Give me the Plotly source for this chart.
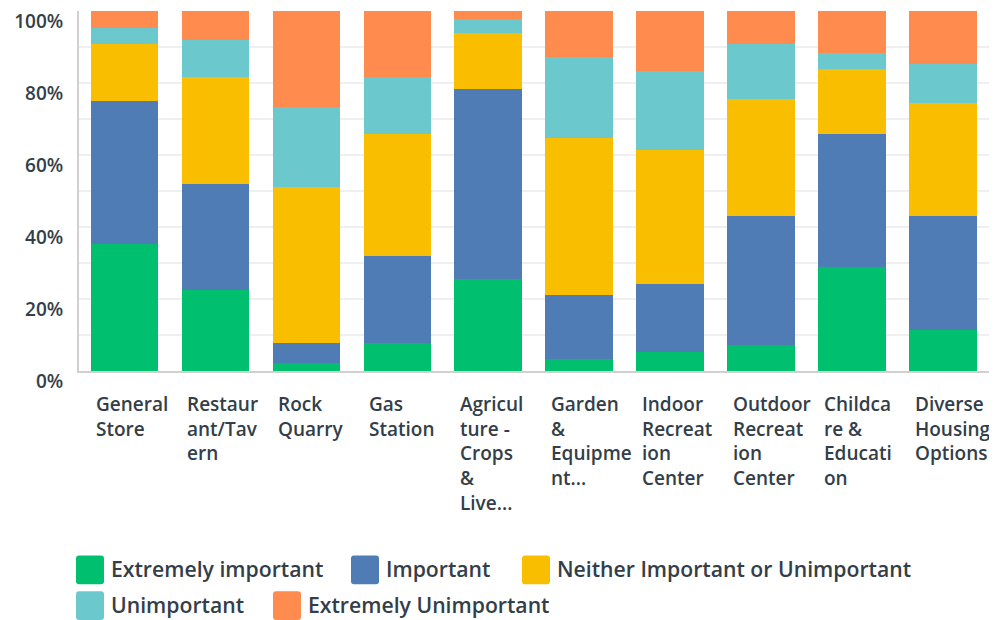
import plotly.graph_objects as go

categories = ["General Store", "Restaurant/Tavern", "Rock Quarry", "Gas Station",
              "Agriculture - Crops & Livestock", "Garden & Equipment", "Indoor Recreation Center",
              "Outdoor Recreation Center", "Childcare & Education", "Diverse Housing Options"]
tick_labels = ["General<br>Store", "Restaur<br>ant/Tav<br>ern", "Rock<br>Quarry", "Gas<br>Station",
               "Agricul<br>ture -<br>Crops<br>&<br>Live...", "Garden<br>&<br>Equipme<br>nt...",
               "Indoor<br>Recreat<br>ion<br>Center", "Outdoor<br>Recreat<br>ion<br>Center",
               "Childca<br>re &<br>Educati<br>on", "Diverse<br>Housing<br>Options"]

series_names = ["Extremely important", "Important", "Neither Important or Unimportant",
                "Unimportant", "Extremely Unimportant"]
series_colors = ["#00bf6f", "#507cb6", "#f9be00", "#6bc8cd", "#ff8b4f"]

extremely_important = [35.4, 22.4, 2.1, 7.7, 25.5, 3.2, 5.2, 7.1, 29.0, 11.5]
important = [39.5, 29.7, 5.6, 24.4, 53.0, 18.0, 18.9, 36.0, 36.9, 31.6]
neither = [16.0, 29.5, 43.3, 33.8, 15.4, 43.6, 37.4, 32.6, 18.1, 31.4]
unimportant = [4.4, 10.4, 22.4, 15.9, 3.8, 22.5, 21.9, 15.2, 4.4, 10.9]
extremely_unimportant = [4.7, 8.0, 26.6, 18.2, 2.3, 12.7, 16.6, 9.1, 11.6, 14.6]

series_values = [extremely_important, important, neither, unimportant, extremely_unimportant]

TEXT = "#333e48"
FONT = "Open Sans"

fig = go.Figure()
for name, color, vals in zip(series_names, series_colors, series_values):
    fig.add_trace(go.Bar(x=categories, y=vals, name=name,
                         marker=dict(color=color, line=dict(width=0)),
                         showlegend=False))

# page body has an 8px margin; figure is sized to fill the rest of the window
OFF = 8
W, H = 989, 612
L, R, T, B = 71, 4, 0, 249
pw, ph = W - L - R, H - T - B


def px(x):
    return (x - OFF - L) / pw


def py(y):
    return (H - B - (y - OFF)) / ph


# x labels as left-aligned annotations under each bar
annotations = []
for cat, lab in zip(categories, tick_labels):
    annotations.append(dict(x=cat, xref="x", y=0, yref="y", text=lab, showarrow=False,
                            xanchor="left", yanchor="top", align="left", xshift=-30, yshift=-18,
                            font=dict(family=FONT, size=19, color=TEXT, weight=600)))

# legend drawn manually
shapes = []
legend_pos = [(76, 557), (351, 557), (522, 557), (76, 593), (273, 593)]
sw, sh, r = 28, 29, 3
for (lx, ly), name, color in zip(legend_pos, series_names, series_colors):
    pts = [("M", lx + r, ly), ("L", lx + sw - r, ly), ("Q", lx + sw, ly, lx + sw, ly + r),
           ("L", lx + sw, ly + sh - r), ("Q", lx + sw, ly + sh, lx + sw - r, ly + sh),
           ("L", lx + r, ly + sh), ("Q", lx, ly + sh, lx, ly + sh - r),
           ("L", lx, ly + r), ("Q", lx, ly, lx + r, ly)]
    parts = []
    for seg in pts:
        cmd, coords = seg[0], seg[1:]
        conv = []
        for i in range(0, len(coords), 2):
            conv.append(f"{px(coords[i]):.5f},{py(coords[i + 1]):.5f}")
        parts.append(cmd + " " + " ".join(conv))
    path = " ".join(parts) + " Z"
    shapes.append(dict(type="path", xref="paper", yref="paper", path=path,
                       fillcolor=color, line=dict(width=0), layer="above"))
    annotations.append(dict(x=px(lx + sw + 5), y=py(ly + sh / 2 - 1), xref="paper", yref="paper",
                            text=name, showarrow=False, xanchor="left", yanchor="middle",
                            font=dict(family=FONT, size=21.2, color=TEXT, weight=600)))

fig.update_layout(
    width=W, height=H,
    margin=dict(l=L, r=R, t=T, b=B, pad=0),
    barmode="stack", bargap=0.257,
    plot_bgcolor="white", paper_bgcolor="white",
    font=dict(family=FONT, color=TEXT),
    xaxis=dict(showticklabels=False, showgrid=False, showline=True, linecolor="#d0d0d0",
               linewidth=2, ticks="", zeroline=False),
    yaxis=dict(range=[0, 100.05], tickvals=[0, 20, 40, 60, 80, 100],
               ticktext=["0%", "20%", "40%", "60%", "80%", "100%"],
               showgrid=True, gridcolor="#efefef", gridwidth=2,
               minor=dict(dtick=10, showgrid=True, gridcolor="#efefef", gridwidth=2),
               showline=True, linecolor="#d0d0d0", linewidth=2, zeroline=False,
               ticks="", ticklabelstandoff=10, ticklabelshift=10, ticklabeloverflow="allow",
               tickfont=dict(family=FONT, size=19, color=TEXT, weight=600)),
    annotations=annotations, shapes=shapes,
)

fig.write_html("out.html")
